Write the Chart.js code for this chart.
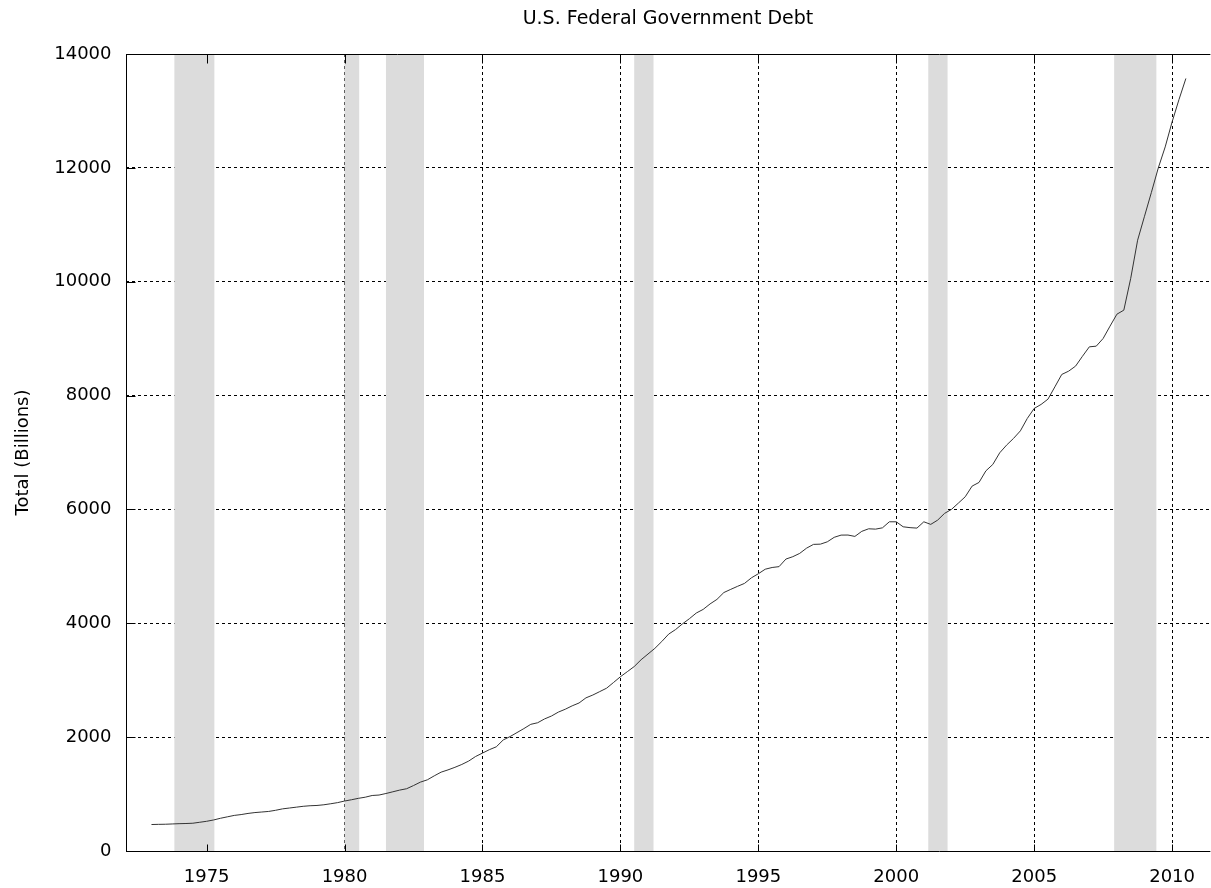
<!DOCTYPE html>
<html>
<head>
<meta charset="utf-8">
<script src="https://cdn.jsdelivr.net/npm/chart.js@4.4.1/dist/chart.umd.min.js"></script>
<style>
  html, body { margin: 0; padding: 0; background: #fff; overflow: hidden; }
  canvas { display: block; }
</style>
</head>
<body>
<canvas id="debtChart" width="1211" height="888"></canvas>
<script>
// quarterly federal debt, billions, starting 1973 Q1
const firstYear = 1973;
const debt = [
    465, 468, 470, 475,       // 1973
    480, 483, 488, 505,       // 1974
    522, 545, 575, 600,       // 1975
    625, 640, 660, 675,       // 1976
    685, 695, 715, 740,       // 1977
    755, 770, 785, 795,       // 1978
    800, 812, 830, 850,       // 1979
    878, 900, 925, 945,       // 1980
    975, 983, 1010, 1040,     // 1981
    1070, 1094, 1150, 1210,   // 1982
    1250, 1320, 1385, 1425,   // 1983
    1470, 1520, 1580, 1660,   // 1984
    1720, 1780, 1830, 1950,   // 1985
    2010, 2080, 2150, 2225,   // 1986
    2253, 2320, 2371, 2440,   // 1987
    2490, 2550, 2600, 2690,   // 1988
    2740, 2800, 2860, 2960,   // 1989
    3061, 3150, 3240, 3360,   // 1990
    3460, 3560, 3680, 3810,   // 1991
    3890, 3990, 4080, 4180,   // 1992
    4244, 4340, 4420, 4540,   // 1993
    4596, 4650, 4701, 4799,   // 1994
    4870, 4950, 4980, 4995,   // 1995
    5128, 5170, 5228, 5320,   // 1996
    5386, 5390, 5431, 5510,   // 1997
    5549, 5550, 5526, 5615,   // 1998
    5660, 5654, 5677, 5783,   // 1999
    5783, 5695, 5680, 5672,   // 2000
    5783, 5737, 5812, 5930,   // 2001
    6000, 6110, 6222, 6410,   // 2002
    6474, 6678, 6790, 6994,   // 2003
    7130, 7247, 7380, 7598,   // 2004
    7774, 7844, 7937, 8153,   // 2005
    8371, 8429, 8517, 8690,   // 2006
    8856, 8868, 9003, 9220,   // 2007
    9430, 9500, 10060, 10729, // 2008
    11150, 11570, 12000, 12368, // 2009
    12807, 13200, 13570       // 2010
];

// recessions (shaded)
const recStart = [1973.83, 1980.0, 1981.5, 1990.5, 2001.16, 2007.9];
const recEnd   = [1975.28, 1980.53, 1982.88, 1991.2, 2001.86, 2009.43];

const xTicks = [1975, 1980, 1985, 1990, 1995, 2000, 2005, 2010];
const yTicks = [0, 2000, 4000, 6000, 8000, 10000, 12000, 14000];

Chart.defaults.font.family = 'DejaVu Sans';
Chart.defaults.color = '#000';

const points = debt.map((v, i) => ({ x: firstYear + i / 4, y: v }));

const recessionBands = {
    id: 'recessionBands',
    beforeDatasetsDraw(chart) {
        const { ctx, chartArea, scales } = chart;
        ctx.save();
        ctx.fillStyle = '#dcdcdc';
        recStart.forEach((s, i) => {
            const x1 = scales.x.getPixelForValue(s);
            const x2 = scales.x.getPixelForValue(recEnd[i]);
            ctx.fillRect(x1, chartArea.top, x2 - x1, chartArea.bottom - chartArea.top);
        });
        ctx.restore();
    }
};

const frame = {
    id: 'frame',
    afterDatasetsDraw(chart) {
        const { ctx, chartArea, scales } = chart;
        const L = Math.round(chartArea.left) + 0.5;
        const T = Math.round(chartArea.top) + 0.5;
        const B = Math.round(chartArea.bottom) + 0.5;
        const R = chartArea.right;
        ctx.save();
        ctx.strokeStyle = '#000';
        ctx.lineWidth = 1;
        ctx.beginPath();
        ctx.moveTo(L, T); ctx.lineTo(R, T);
        ctx.moveTo(L, T); ctx.lineTo(L, B);
        ctx.moveTo(L, B); ctx.lineTo(R, B);
        // inward tick marks
        xTicks.forEach(t => {
            const x = Math.round(scales.x.getPixelForValue(t)) + 0.5;
            ctx.moveTo(x, B); ctx.lineTo(x, B - 7);
            ctx.moveTo(x, T); ctx.lineTo(x, T + 9);
        });
        yTicks.forEach(t => {
            const y = Math.round(scales.y.getPixelForValue(t)) + 0.5;
            ctx.moveTo(L, y); ctx.lineTo(L + 9, y);
        });
        ctx.stroke();
        // title
        ctx.fillStyle = '#000';
        ctx.font = '19px "DejaVu Sans"';
        ctx.textAlign = 'center';
        ctx.textBaseline = 'middle';
        ctx.fillText('U.S. Federal Government Debt', (chartArea.left + chartArea.right) / 2, 19);
        ctx.restore();
    }
};

new Chart(document.getElementById('debtChart'), {
    type: 'line',
    data: {
        datasets: [{
            label: 'Total',
            data: points,
            borderColor: '#333',
            borderWidth: 1,
            pointRadius: 0,
            tension: 0,
            fill: false
        }]
    },
    options: {
        responsive: false,
        animation: false,
        layout: { padding: { top: 54, left: 0, right: 0, bottom: 0 } },
        plugins: {
            legend: { display: false },
            tooltip: { enabled: false },
            title: { display: false }
        },
        scales: {
            x: {
                type: 'linear',
                min: 1972.058,
                max: 2011.388,
                afterFit: s => { s.height = 37; },
                afterBuildTicks: s => { s.ticks = xTicks.map(v => ({ value: v })); },
                ticks: {
                    font: { size: 18 },
                    padding: 16,
                    maxRotation: 0,
                    callback: v => String(v)
                },
                grid: { color: '#000', lineWidth: 1, drawTicks: false, borderDash: [3, 3] },
                border: { display: false, dash: [3, 3] }
            },
            y: {
                min: 0,
                max: 14000,
                afterFit: s => { s.width = 125.5; },
                afterBuildTicks: s => { s.ticks = yTicks.map(v => ({ value: v })); },
                ticks: {
                    font: { size: 18 },
                    padding: 14,
                    callback: v => String(v)
                },
                title: {
                    display: true,
                    text: 'Total (Billions)',
                    font: { size: 18 },
                    padding: { top: 13, bottom: 0 }
                },
                grid: { color: '#000', lineWidth: 1, drawTicks: false, borderDash: [3, 3] },
                border: { display: false, dash: [3, 3] }
            }
        }
    },
    plugins: [recessionBands, frame]
});
</script>
</body>
</html>
